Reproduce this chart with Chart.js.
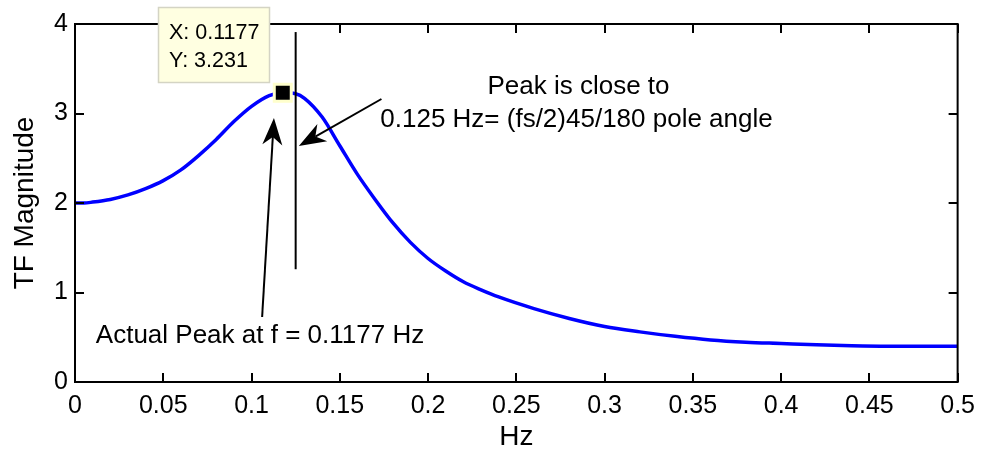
<!DOCTYPE html>
<html>
<head>
<meta charset="utf-8">
<script src="https://cdn.jsdelivr.net/npm/chart.js@4.4.1/dist/chart.umd.min.js"></script>
<style>
  html, body { margin: 0; padding: 0; background: #fff; }
  #wrap { width: 984px; height: 452px; }
</style>
</head>
<body>
<div id="wrap"><canvas id="tfChart" width="984" height="452"></canvas></div>
<script>
// values
const freq = [0, 0.005, 0.01, 0.02, 0.03, 0.04, 0.05, 0.06, 0.07, 0.08, 0.09, 0.10, 0.11, 0.1177, 0.125, 0.13,
    0.14, 0.15, 0.16, 0.17, 0.18, 0.19, 0.20, 0.21, 0.22, 0.23, 0.24, 0.26, 0.28, 0.30, 0.32, 0.34, 0.36,
    0.38, 0.40, 0.42, 0.44, 0.46, 0.48, 0.50];
const mag = [2.00, 2.00, 2.01, 2.04, 2.09, 2.16, 2.25, 2.37, 2.53, 2.71, 2.91, 3.08, 3.20, 3.231, 3.22, 3.17,
    2.96, 2.64, 2.32, 2.04, 1.78, 1.56, 1.38, 1.24, 1.12, 1.03, 0.95, 0.82, 0.71, 0.62, 0.56, 0.51, 0.47,
    0.445, 0.43, 0.415, 0.405, 0.40, 0.40, 0.40];

const peakX = [0.1177];
const peakY = [3.231];

const xTickVals = [0, 0.05, 0.1, 0.15, 0.2, 0.25, 0.3, 0.35, 0.4, 0.45, 0.5];
const xTickLabels = ['0', '0.05', '0.1', '0.15', '0.2', '0.25', '0.3', '0.35', '0.4', '0.45', '0.5'];
const yTickVals = [0, 1, 2, 3, 4];
const yTickLabels = ['0', '1', '2', '3', '4'];

const FONT = '"Liberation Sans", Arial, Helvetica, sans-serif';

function drawArrow(ctx, x0, y0, x1, y1) {
    const dx = x1 - x0, dy = y1 - y0;
    const len = Math.sqrt(dx * dx + dy * dy);
    const ux = dx / len, uy = dy / len;
    const L = 27, W = 10, notch = 19;
    ctx.beginPath();
    ctx.moveTo(x0, y0);
    ctx.lineTo(x1 - ux * notch, y1 - uy * notch);
    ctx.stroke();
    ctx.beginPath();
    ctx.moveTo(x1, y1);
    ctx.lineTo(x1 - ux * L - uy * W, y1 - uy * L + ux * W);
    ctx.lineTo(x1 - ux * notch, y1 - uy * notch);
    ctx.lineTo(x1 - ux * L + uy * W, y1 - uy * L - ux * W);
    ctx.closePath();
    ctx.fill();
}

const annotations = {
    id: 'annotations',
    afterDraw(chart) {
        const { ctx, chartArea: a, scales: { x, y } } = chart;
        const px = v => x.getPixelForValue(v);
        const py = v => y.getPixelForValue(v);
        ctx.save();

        // axes box with inward ticks
        ctx.strokeStyle = '#000';
        ctx.lineWidth = 2;
        ctx.strokeRect(a.left, a.top, a.width, a.height);
        ctx.beginPath();
        xTickVals.forEach(v => {
            const p = Math.round(px(v));
            ctx.moveTo(p, a.bottom); ctx.lineTo(p, a.bottom - 9);
            ctx.moveTo(p, a.top); ctx.lineTo(p, a.top + 9);
        });
        yTickVals.forEach(v => {
            const p = Math.round(py(v));
            ctx.moveTo(a.left, p); ctx.lineTo(a.left + 9, p);
            ctx.moveTo(a.right, p); ctx.lineTo(a.right - 9, p);
        });
        ctx.stroke();

        // vertical line at 0.125 Hz
        ctx.lineWidth = 2;
        ctx.beginPath();
        ctx.moveTo(px(0.125), py(3.91));
        ctx.lineTo(px(0.125), py(1.26));
        ctx.stroke();

        // arrows
        ctx.fillStyle = '#000';
        ctx.lineWidth = 2;
        drawArrow(ctx, px(0.1736), py(3.162), px(0.1268), py(2.637));
        drawArrow(ctx, px(0.106), py(0.726), px(0.1127), py(2.95));

        // text notes
        ctx.fillStyle = '#000';
        ctx.font = '26px ' + FONT;
        ctx.textBaseline = 'alphabetic';
        ctx.textAlign = 'center';
        ctx.fillText('Peak is close to', px(0.2852), py(3.218));
        ctx.fillText('0.125 Hz= (fs/2)45/180 pole angle', px(0.2841), py(2.849));
        ctx.textAlign = 'left';
        ctx.fillText('Actual Peak at f = 0.1177 Hz', px(0.0118), py(0.436));

        // data tip box
        const mx = px(peakX[0]), my = py(peakY[0]);
        const bw = 112, bh = 76;
        const bx = Math.round(mx - 13 - bw), by = Math.round(my - 10 - bh);
        ctx.fillStyle = '#ffffe1';
        ctx.fillRect(bx, by, bw, bh);
        ctx.strokeStyle = '#d4d4c4';
        ctx.lineWidth = 1.5;
        ctx.strokeRect(bx + 0.5, by + 0.5, bw - 1, bh - 1);
        ctx.fillStyle = '#000';
        ctx.font = '21.5px ' + FONT;
        ctx.fillText('X: ' + peakX[0], bx + 11, by + 32);
        ctx.fillText('Y: ' + peakY[0], bx + 11, by + 60);

        ctx.restore();
    }
};

new Chart(document.getElementById('tfChart'), {
    type: 'line',
    data: {
        datasets: [
            {
                label: 'peak',
                data: peakX.map((v, i) => ({ x: v, y: peakY[i] })),
                showLine: false,
                pointStyle: 'rect',
                pointRadius: 12,
                pointBackgroundColor: '#000',
                pointBorderColor: '#ffffcc',
                pointBorderWidth: 3,
                order: 0
            },
            {
                label: 'TF',
                data: freq.map((f, i) => ({ x: f, y: mag[i] })),
                borderColor: '#0000ff',
                borderWidth: 3.5,
                pointRadius: 0,
                cubicInterpolationMode: 'monotone',
                fill: false,
                order: 1
            }
        ]
    },
    options: {
        responsive: false,
        animation: false,
        events: [],
        layout: { padding: { top: 24, right: 22, left: 0, bottom: 0 } },
        plugins: { legend: { display: false }, tooltip: { enabled: false } },
        scales: {
            x: {
                type: 'linear',
                min: 0,
                max: 0.5,
                grid: { display: false, drawTicks: false },
                border: { display: false },
                afterBuildTicks: s => { s.ticks = xTickVals.map(v => ({ value: v })); },
                afterFit: s => { s.height = 70; },
                ticks: {
                    padding: 9,
                    color: '#000',
                    maxRotation: 0,
                    autoSkip: false,
                    font: { family: FONT, size: 25 },
                    callback: (v, i) => xTickLabels[i]
                },
                title: {
                    display: true,
                    text: 'Hz',
                    color: '#000',
                    padding: { top: 0, bottom: -2 },
                    font: { family: FONT, size: 28 }
                }
            },
            y: {
                min: 0,
                max: 4,
                grid: { display: false, drawTicks: false },
                border: { display: false },
                afterBuildTicks: s => { s.ticks = yTickVals.map(v => ({ value: v })); },
                afterFit: s => { s.width = 75; },
                ticks: {
                    padding: 7,
                    color: '#000',
                    font: { family: FONT, size: 25 },
                    callback: (v, i) => yTickLabels[i]
                },
                title: {
                    display: true,
                    text: 'TF Magnitude',
                    color: '#000',
                    padding: { top: 8, bottom: 0 },
                    font: { family: FONT, size: 28 }
                }
            }
        }
    },
    plugins: [annotations]
});
</script>
</body>
</html>
